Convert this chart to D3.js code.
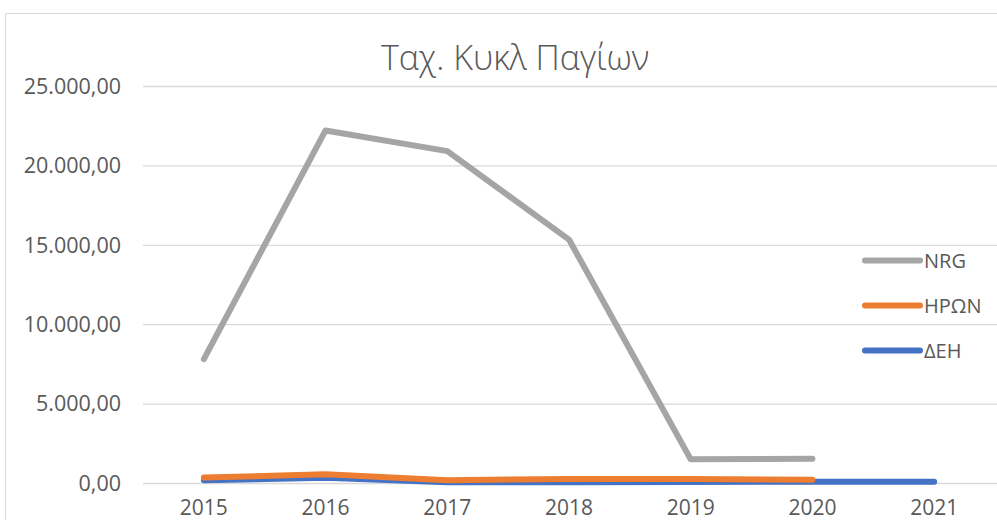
<!DOCTYPE html>
<html lang="el">
<head>
<meta charset="UTF-8">
<title>Ταχ. Κυκλ Παγίων</title>
<script src="https://d3js.org/d3.v7.min.js"></script>
<style>
  html, body { margin: 0; padding: 0; background: #fff; overflow: hidden; }
  svg text { font-family: "Open Sans", "Noto Sans", sans-serif; fill: #595959; }
</style>
</head>
<body>
<div id="chart"></div>
<script>
  // data
  const years = ["2015", "2016", "2017", "2018", "2019", "2020", "2021"];
  const nrg   = [7800, 22200, 20900, 15330, 1490, 1530, null];
  const heron = [340, 550, 180, 250, 250, 200, null];
  const dei   = [170, 330, 40, 50, 60, 80, 80];
  const yTicks = [0, 5000, 10000, 15000, 20000, 25000];

  const series = [
    { name: "NRG",  values: nrg,   color: "#A5A5A5" },
    { name: "ΗΡΩΝ", values: heron, color: "#ED7D31" },
    { name: "ΔΕΗ",  values: dei,   color: "#4472C4" }
  ];
  // draw order: blue under orange, gray on top
  const drawOrder = [series[2], series[1], series[0]];

  const W = 997, H = 520;
  const svg = d3.select("#chart").append("svg")
      .attr("width", W).attr("height", H);

  // chart border
  svg.append("rect")
      .attr("x", 5.5).attr("y", 13.5)
      .attr("width", W).attr("height", H)
      .attr("fill", "none").attr("stroke", "#D9D9D9").attr("stroke-width", 1);

  const x = d3.scaleBand().domain(years).range([143, 995]);
  const y = d3.scaleLinear().domain([0, 25000]).range([483, 86]);
  const cx = d => x(d) + x.bandwidth() / 2;

  const fmt = v => {
    const s = d3.format(",.2f")(v);
    return s.replace(/,/g, "#").replace(".", ",").replace(/#/g, ".");
  };

  // gridlines
  svg.append("g").selectAll("line")
    .data(yTicks).enter().append("line")
      .attr("x1", 143).attr("x2", W)
      .attr("y1", d => y(d) + 0.5).attr("y2", d => y(d) + 0.5)
      .attr("stroke", "#D9D9D9").attr("stroke-width", 1.3);

  // y labels
  svg.append("g").selectAll("text")
    .data(yTicks).enter().append("text")
      .attr("x", 121).attr("y", d => y(d))
      .attr("dy", "0.36em")
      .attr("text-anchor", "end")
      .style("font-size", "21.5px")
      .text(fmt);

  // x labels
  svg.append("g").selectAll("text")
    .data(years).enter().append("text")
      .attr("x", d => cx(d)).attr("y", 515)
      .attr("text-anchor", "middle")
      .style("font-size", "21px")
      .text(d => d);

  // lines
  const line = d3.line()
      .defined(d => d.v != null)
      .x(d => cx(d.year))
      .y(d => y(d.v));

  drawOrder.forEach(s => {
    svg.append("path")
      .datum(years.map((yr, i) => ({ year: yr, v: s.values[i] })))
      .attr("d", line)
      .attr("fill", "none")
      .attr("stroke", s.color)
      .attr("stroke-width", 6)
      .attr("stroke-linecap", "round")
      .attr("stroke-linejoin", "round");
  });

  // title
  svg.append("text")
      .attr("x", 515).attr("y", 70)
      .attr("text-anchor", "middle")
      .style("font-size", "34px")
      .style("font-weight", 300)
      .text("Ταχ. Κυκλ Παγίων");

  // legend
  const legend = svg.append("g").selectAll("g")
    .data(series).enter().append("g")
      .attr("transform", (d, i) => `translate(865,${260.5 + i * 45})`);
  legend.append("line")
      .attr("x1", 0).attr("x2", 55)
      .attr("stroke", d => d.color)
      .attr("stroke-width", 6)
      .attr("stroke-linecap", "round");
  legend.append("text")
      .attr("x", 59).attr("dy", "0.36em")
      .style("font-size", "20px")
      .text(d => d.name);
</script>
</body>
</html>
